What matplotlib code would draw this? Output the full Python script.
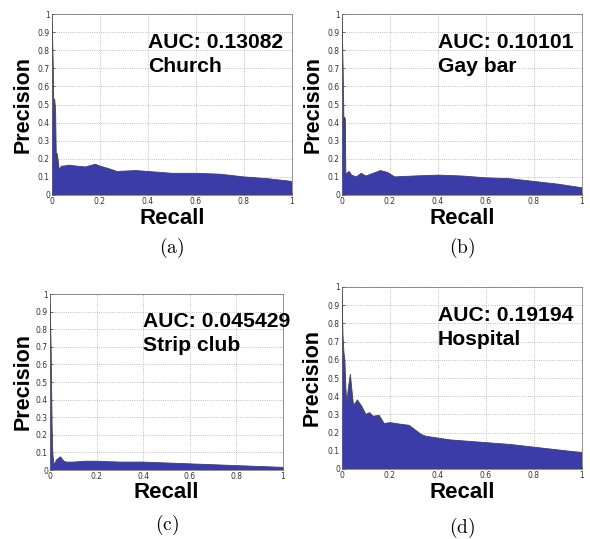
import matplotlib.pyplot as plt

plt.rcParams['mathtext.fontset'] = 'cm'

# Precision-recall curves
church_recall = [0, 0.005, 0.008, 0.011, 0.013, 0.015, 0.018, 0.021, 0.025, 0.03, 0.04, 0.05,
                 0.07, 0.1, 0.14, 0.18, 0.2, 0.25, 0.27, 0.35, 0.4, 0.45, 0.5, 0.6, 0.7, 0.8, 0.9, 1.0]
church_prec = [1.0, 0.73, 0.45, 0.53, 0.5, 0.47, 0.2, 0.23, 0.2, 0.14, 0.16, 0.16,
               0.165, 0.16, 0.155, 0.17, 0.16, 0.14, 0.13, 0.135, 0.13, 0.125, 0.12, 0.12, 0.115, 0.1, 0.09, 0.075]

gay_recall = [0, 0.005, 0.008, 0.011, 0.014, 0.016, 0.02, 0.03, 0.04, 0.06, 0.08, 0.1, 0.13,
              0.16, 0.19, 0.22, 0.3, 0.4, 0.5, 0.6, 0.7, 0.8, 0.9, 1.0]
gay_prec = [1.0, 0.68, 0.4, 0.43, 0.42, 0.12, 0.12, 0.13, 0.11, 0.10, 0.12, 0.105, 0.12,
            0.135, 0.125, 0.10, 0.105, 0.11, 0.105, 0.095, 0.09, 0.075, 0.06, 0.04]

strip_recall = [0, 0.005, 0.009, 0.012, 0.016, 0.03, 0.045, 0.06, 0.07, 0.1, 0.15, 0.2,
                0.3, 0.4, 0.5, 0.6, 0.7, 0.8, 0.9, 1.0]
strip_prec = [1.0, 0.68, 0.25, 0.1, 0.03, 0.06, 0.075, 0.05, 0.045, 0.045, 0.05, 0.05,
              0.045, 0.045, 0.04, 0.035, 0.03, 0.025, 0.02, 0.015]

hosp_recall = [0, 0.004, 0.008, 0.012, 0.016, 0.02, 0.027, 0.035, 0.04, 0.048, 0.06,
               0.063, 0.08, 0.1, 0.115, 0.13, 0.155, 0.176, 0.2, 0.25, 0.28, 0.3,
               0.33, 0.35, 0.4, 0.45, 0.5, 0.6, 0.7, 0.8, 0.9, 1.0]
hosp_prec = [1.0, 0.74, 0.64, 0.6, 0.45, 0.36, 0.45, 0.52, 0.45, 0.35, 0.37,
             0.38, 0.35, 0.3, 0.31, 0.29, 0.295, 0.25, 0.255, 0.245, 0.24, 0.22,
             0.19, 0.18, 0.17, 0.16, 0.155, 0.145, 0.135, 0.12, 0.105, 0.09]

aucs = ["0.13082", "0.10101", "0.045429", "0.19194"]
names = ["Church", "Gay bar", "Strip club", "Hospital"]
captions = ["a", "b", "c", "d"]
curves = [(church_recall, church_prec), (gay_recall, gay_prec),
          (strip_recall, strip_prec), (hosp_recall, hosp_prec)]

W, H = 590, 539
# axes boxes in pixels: left, top, right, bottom
boxes = [(52, 14, 292, 195), (342, 14, 582, 195), (50, 294, 283, 470), (342, 287, 582, 469)]
ylab_x = [23, 313, 23, 312]
xlab_base = [224, 224, 498, 498]
cap_y = [248, 248, 525, 528]

fig = plt.figure(figsize=(W / 100, H / 100), dpi=100)

for i in range(4):
    l, t, r, b = boxes[i]
    ax = fig.add_axes([l / W, 1 - b / H, (r - l) / W, (b - t) / H])
    x, y = curves[i]
    ax.fill_between(x, y, 0, color='#3c3ca8', edgecolor='none', zorder=2)
    ax.plot(x, y, color='#444444', lw=0.6, zorder=3)
    ax.set_xlim(0, 1)
    ax.set_ylim(0, 1)
    ax.set_xticks([0, 0.2, 0.4, 0.6, 0.8, 1])
    ax.set_xticklabels(['0', '0.2', '0.4', '0.6', '0.8', '1'])
    ax.set_yticks([k / 10 for k in range(11)])
    ax.set_yticklabels(['0'] + ['0.%d' % k for k in range(1, 10)] + ['1'])
    ax.tick_params(direction='in', length=2, width=0.5, labelsize=5.5,
                   colors='#333333', pad=1.5)
    ax.grid(True, linestyle=':', color='#aaaaaa', lw=0.6, zorder=0)
    for s in ax.spines.values():
        s.set_linewidth(0.5)
        s.set_color('#666666')
    ax.text(0.4, 0.845, "AUC: " + aucs[i], fontsize=15.2, fontweight='bold',
            family='Liberation Sans', va='center', ha='left', transform=ax.transAxes)
    ax.text(0.4, 0.71, names[i], fontsize=15.2, fontweight='bold',
            family='Liberation Sans', va='center', ha='left', transform=ax.transAxes)

    cx = (l + r) / 2 / W
    fig.text(cx, 1 - xlab_base[i] / H, "Recall", fontsize=16, fontweight='bold',
             family='Liberation Sans', ha='center', va='baseline')
    fig.text(ylab_x[i] / W, 1 - (t + b) / 2 / H, "Precision", fontsize=15.5,
             fontweight='bold', family='Liberation Sans', rotation=90,
             ha='center', va='center')
    fig.text(cx, 1 - cap_y[i] / H, r'$\mathrm{(%s)}$' % captions[i], fontsize=14,
             ha='center', va='center')

fig.savefig("out.png", dpi=100)
